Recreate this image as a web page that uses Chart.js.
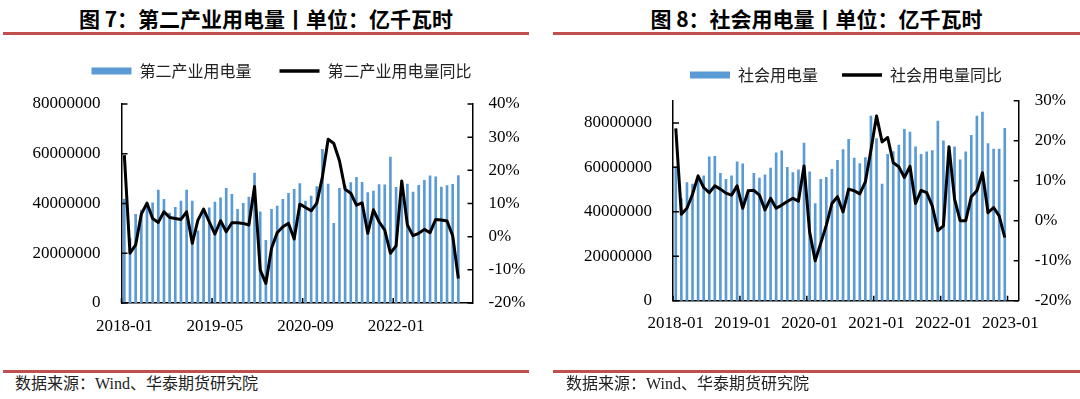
<!DOCTYPE html>
<html>
<head>
<meta charset="utf-8">
<script src="https://cdn.jsdelivr.net/npm/chart.js@4.4.0/dist/chart.umd.min.js"></script>
<style>
  body { margin: 0; width: 1080px; height: 399px; background: #fff; position: relative; overflow: hidden; font-family: "Noto Sans CJK SC", sans-serif; }
  .title { position: absolute; top: 4px; height: 28px; line-height: 28px; text-align: center; font-weight: bold; font-size: 21px; color: #000; white-space: nowrap; }
  .rule { position: absolute; height: 2.5px; background: #C0504D; }
  .src { position: absolute; top: 374px; font-size: 16px; line-height: 20px; color: #222; white-space: nowrap; font-family: "Liberation Serif", "Noto Sans CJK SC", serif; }
  canvas { position: absolute; }
</style>
</head>
<body>
<div class="title" style="left:3px;width:526px">图 7：第二产业用电量丨单位：亿千瓦时</div>
<div class="rule" style="left:3px;width:526px;top:32px"></div>
<div class="title" style="left:553px;width:527px">图 8：社会用电量丨单位：亿千瓦时</div>
<div class="rule" style="left:553px;width:527px;top:32px"></div>

<canvas id="chart7" width="540" height="330" style="left:0;top:35px"></canvas>
<canvas id="chart8" width="580" height="330" style="left:540px;top:43px"></canvas>

<div class="rule" style="left:3px;width:526px;top:370px"></div>
<div class="rule" style="left:553px;width:527px;top:370px"></div>
<div class="src" style="left:15px">数据来源：Wind、华泰期货研究院</div>
<div class="src" style="left:566px">数据来源：Wind、华泰期货研究院</div>

<script>
// months on the category axis (data runs to 2022-12, axis to 2023-02)
const months = [
  '2018-01','2018-02','2018-03','2018-04','2018-05','2018-06','2018-07','2018-08','2018-09','2018-10','2018-11','2018-12',
  '2019-01','2019-02','2019-03','2019-04','2019-05','2019-06','2019-07','2019-08','2019-09','2019-10','2019-11','2019-12',
  '2020-01','2020-02','2020-03','2020-04','2020-05','2020-06','2020-07','2020-08','2020-09','2020-10','2020-11','2020-12',
  '2021-01','2021-02','2021-03','2021-04','2021-05','2021-06','2021-07','2021-08','2021-09','2021-10','2021-11','2021-12',
  '2022-01','2022-02','2022-03','2022-04','2022-05','2022-06','2022-07','2022-08','2022-09','2022-10','2022-11','2022-12',
  '2023-01','2023-02'
];
const ticks7 = ['2018-01', '2019-05', '2020-09', '2022-01'];
const ticks8 = ['2018-01', '2019-01', '2020-01', '2021-01', '2022-01', '2023-01'];
const amountTicks = [0, 20000000, 40000000, 60000000, 80000000];

// 第二产业用电量, millions
const industry = [
  41.8, 26.0, 35.6, 37.4, 40.1, 40.3, 45.4, 41.7, 36.1, 38.5, 41.0, 45.4,
  41.0, 29.0, 37.0, 38.3, 40.6, 42.3, 46.1, 43.7, 37.7, 40.1, 42.6, 52.2,
  36.7, 25.2, 37.7, 39.0, 41.7, 44.1, 45.7, 48.0, 41.0, 43.0, 46.8, 61.8,
  47.8, 32.0, 46.1, 47.0, 48.4, 50.5, 48.5, 44.4, 45.0, 47.6, 47.5, 58.7,
  46.5, 42.0, 47.8, 44.6, 47.3, 49.3, 51.1, 50.7, 46.6, 47.2, 47.7, 51.2
];
// 第二产业用电量同比, %
const industryYoy = [
  24.6, -5.0, -2.5, 6.8, 10.1, 5.5, 4.3, 7.5, 5.8, 5.5, 5.2, 7.5,
  -2.0, 5.0, 8.3, 4.5, 0.8, 4.8, 1.5, 4.2, 4.2, 4.0, 3.5, 15.1,
  -10.0, -14.1, -3.5, 1.2, 3.0, 4.0, -0.7, 9.8, 8.8, 7.8, 10.1, 18.1,
  29.4, 28.1, 22.9, 14.3, 13.1, 9.5, 10.2, 1.0, 8.1, 4.5, 2.0, -5.0,
  -2.8, 16.8, 3.5, 0.3, 1.0, 2.2, 1.2, 5.2, 5.0, 4.7, 0.3, -12.6
];
// 社会用电量, millions
const society = [
  60.3, 46.0, 53.2, 52.5, 55.5, 56.2, 64.7, 65.0, 57.3, 54.6, 56.2, 62.5,
  61.6, 50.0, 57.3, 55.2, 56.6, 59.7, 66.5, 67.4, 60.0, 57.7, 58.9, 70.9,
  58.0, 43.7, 54.6, 55.5, 59.1, 63.2, 68.0, 72.6, 64.2, 61.7, 64.4, 83.1,
  72.9, 52.5, 65.9, 67.1, 70.0, 77.1, 75.9, 69.2, 65.9, 67.0, 67.5, 80.8,
  71.9, 64.5, 69.2, 63.4, 67.0, 74.4, 83.1, 84.9, 70.7, 68.2, 68.2, 77.6
];
// 社会用电量同比, %
const societyYoy = [
  23.1, 1.6, 3.1, 6.6, 11.2, 8.3, 7.0, 8.7, 7.9, 6.9, 6.4, 8.7,
  3.1, 7.5, 7.6, 6.4, 2.7, 5.6, 3.1, 3.9, 4.8, 5.6, 4.9, 13.7,
  -2.8, -10.0, -5.6, -1.1, 4.3, 6.0, 2.2, 7.9, 7.5, 6.7, 9.7, 17.7,
  26.2, 19.7, 20.8, 14.5, 13.5, 10.8, 13.6, 4.3, 7.6, 7.0, 3.7, -2.5,
  -1.3, 18.5, 5.4, 0.0, 0.0, 6.0, 7.5, 12.0, 2.0, 3.3, 1.2, -4.2
];

const BLUE = '#5B9BD5';
const tickFont = { family: 'Liberation Serif', size: 17 };

// Excel style tick marks that point into the plot
const inwardTicks = {
  id: 'inwardTicks',
  afterDraw(chart, args, opts) {
    const { ctx, chartArea: a, scales } = chart;
    ctx.save();
    ctx.strokeStyle = '#000';
    ctx.lineWidth = 1.5;
    ctx.beginPath();
    scales.y.ticks.forEach(t => {
      const y = scales.y.getPixelForValue(t.value);
      ctx.moveTo(a.left, y);
      ctx.lineTo(a.left + 6, y);
    });
    scales.y2.ticks.forEach(t => {
      const y = scales.y2.getPixelForValue(t.value);
      ctx.moveTo(a.right, y);
      ctx.lineTo(a.right - 5, y);
    });
    const x = scales.x;
    const half = (x.getPixelForValue(1) - x.getPixelForValue(0)) / 2;
    opts.shown.forEach(lab => {
      const px = x.getPixelForValue(months.indexOf(lab)) - half;
      ctx.moveTo(px, a.bottom);
      ctx.lineTo(px, a.bottom - 5);
    });
    ctx.stroke();
    ctx.restore();
  }
};

function makeChart(id, cfg) {
  return new Chart(document.getElementById(id), {
    data: {
      labels: months,
      datasets: [
        {
          type: 'bar',
          label: cfg.barLabel,
          data: cfg.bars.map(v => v * 1000000),
          backgroundColor: BLUE,
          borderWidth: 0,
          barThickness: 2,
          yAxisID: 'y',
          order: 2
        },
        {
          type: 'line',
          label: cfg.lineLabel,
          data: cfg.yoy,
          borderColor: '#000',
          borderWidth: 3,
          pointRadius: 0,
          tension: 0,
          borderJoinStyle: 'round',
          yAxisID: 'y2',
          order: 1
        }
      ]
    },
    options: {
      responsive: false,
      animation: false,
      devicePixelRatio: 1,
      layout: { padding: { left: cfg.padLeft, right: 0, top: 0, bottom: 0 } },
      plugins: {
        tooltip: { enabled: false },
        inwardTicks: { shown: cfg.shown },
        // empty subtitle below the legend, used only as a spacer
        subtitle: {
          display: true, text: ' ', position: 'top', weight: 500,
          font: { size: 1 }, padding: { top: cfg.legendGap, bottom: 0 }
        },
        legend: {
          position: 'top',
          align: 'center',
          labels: {
            usePointStyle: true,
            pointStyleWidth: 40,
            boxHeight: 7,
            padding: cfg.legendPad,
            color: '#222',
            font: { family: 'Noto Sans CJK SC', size: 16 },
            generateLabels: chart => chart.data.datasets.map((ds, i) => ({
              text: ds.label,
              datasetIndex: i,
              fillStyle: ds.type === 'bar' ? BLUE : '#000',
              strokeStyle: '#000',
              lineWidth: ds.type === 'bar' ? 0 : 3.5,
              pointStyle: ds.type === 'bar' ? 'rect' : 'line',
              fontColor: '#222',
              hidden: false
            }))
          }
        }
      },
      scales: {
        x: {
          type: 'category',
          offset: true,
          grid: { display: false, drawTicks: false },
          border: { display: true, color: '#000', width: 1.5 },
          ticks: {
            autoSkip: false, maxRotation: 0, minRotation: 0, padding: 13,
            color: '#000', font: tickFont,
            callback: (v, i) => cfg.shown.includes(months[i]) ? months[i] : ''
          },
          afterFit: s => { s.height = cfg.xHeight; }
        },
        y: {
          position: 'left',
          min: 0,
          max: cfg.yMax,
          grid: { display: false, drawTicks: false },
          border: { display: true, color: '#000', width: 1.5 },
          ticks: {
            padding: 21,
            color: '#000', font: tickFont,
            callback: v => String(v)
          },
          afterBuildTicks: s => { s.ticks = amountTicks.map(v => ({ value: v })); },
          afterFit: s => { s.width = cfg.yWidth; }
        },
        y2: {
          position: 'right',
          min: cfg.pctMin,
          max: cfg.pctMax,
          grid: { display: false, drawTicks: false },
          border: { display: true, color: '#000', width: 1.5 },
          ticks: {
            stepSize: 10, padding: 16,
            color: '#000', font: tickFont,
            callback: v => v + '%'
          },
          afterFit: s => { s.width = cfg.y2Width; }
        }
      }
    },
    plugins: [inwardTicks]
  });
}

makeChart('chart7', {
  barLabel: '第二产业用电量', lineLabel: '第二产业用电量同比',
  bars: industry, yoy: industryYoy, shown: ticks7,
  yMax: 80000000, pctMin: -20, pctMax: 40,
  padLeft: 23, legendPad: 28, legendGap: 13.8,
  yWidth: 98.5, y2Width: 67.5, xHeight: 62
});

// canvas runs 40px past the page edge so the legend centres where the reference has it
makeChart('chart8', {
  barLabel: '社会用电量', lineLabel: '社会用电量同比',
  bars: society, yoy: societyYoy, shown: ticks8,
  yMax: 90000000, pctMin: -20, pctMax: 30,
  padLeft: 32, legendPad: 24, legendGap: 6.5,
  yWidth: 101, y2Width: 101.3, xHeight: 72.3
});
</script>
</body>
</html>
